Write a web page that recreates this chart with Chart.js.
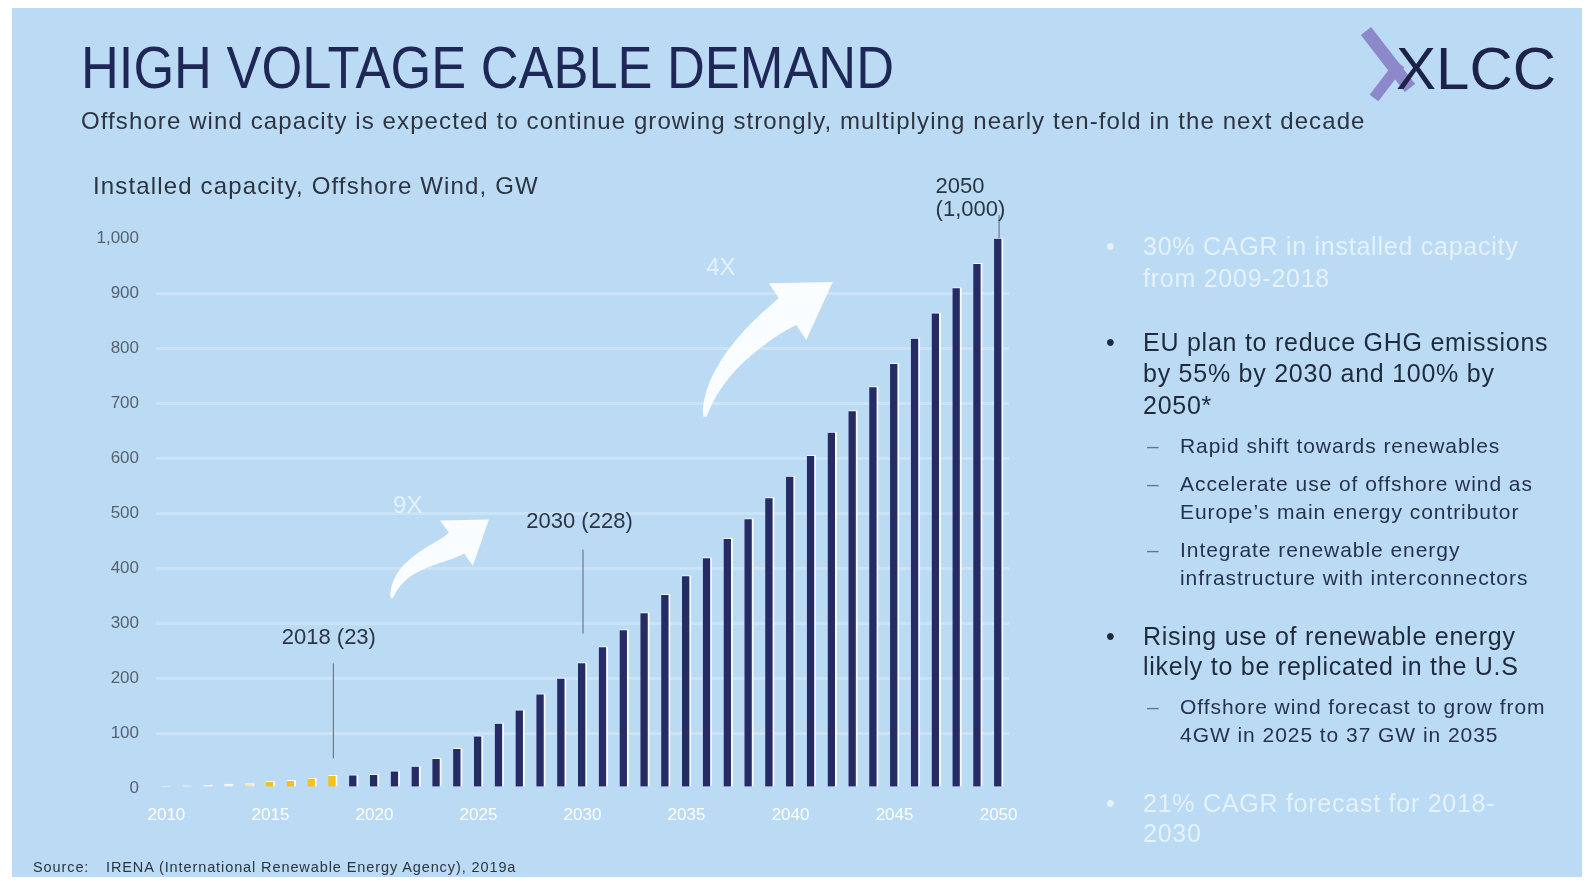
<!DOCTYPE html>
<html>
<head>
<meta charset="utf-8">
<title>High voltage cable demand</title>
<script src="https://cdn.jsdelivr.net/npm/chart.js@4.4.1/dist/chart.umd.min.js"></script>
<style>
  html, body { margin: 0; padding: 0; }
  body { width: 1589px; height: 881px; position: relative; overflow: hidden; background: #fff;
         font-family: 'Liberation Sans', Arial, sans-serif; }
  #slide { position: absolute; left: 12px; top: 8px; width: 1570px; height: 869px; background: #bbdbf5; }
  #wrap { position: absolute; left: 0; top: 0; width: 1589px; height: 881px; }
  .txt { position: absolute; white-space: nowrap; }
  #title { left: 81px; top: 38px; font-size: 60px; line-height: 60px; color: #1f2757;
           transform: scaleX(0.873); transform-origin: left top; }
  #subtitle { left: 81px; top: 109px; font-size: 24px; line-height: 24px; color: #2d3440; letter-spacing: 1.1px; }
  #ylabel { left: 93px; top: 174px; font-size: 24px; line-height: 24px; color: #2d3440; letter-spacing: 1.15px; }
  #logo { position: absolute; left: 1340px; top: 24px; }
  .item { position: absolute; white-space: nowrap; }
  .item .mark { position: absolute; left: 0; top: 0; letter-spacing: 0; }
  .lvl1 { left: 1106px; font-size: 25px; color: #1f2a3c; letter-spacing: 0.75px; }
  .lvl1 .body { margin-left: 37px; }
  .lvl2 { left: 1147px; font-size: 21px; line-height: 28px; color: #26324a; letter-spacing: 0.95px; }
  .lvl2 .mark { color: #6b7585; }
  .lvl2 .body { margin-left: 33px; }
  .faded { color: rgba(255,255,255,0.62); }
  #source { left: 33px; top: 860px; font-size: 14.5px; line-height: 15px; color: #2d3440; letter-spacing: 0.9px; }
  #source2 { left: 106px; top: 860px; font-size: 14.5px; line-height: 15px; color: #2d3440; letter-spacing: 0.9px; }
</style>
</head>
<body>
<div id="slide"></div>
<div id="wrap"><canvas id="grafico"></canvas></div>

<div class="txt" id="title">HIGH VOLTAGE CABLE DEMAND</div>
<div class="txt" id="subtitle">Offshore wind capacity is expected to continue growing strongly, multiplying nearly ten-fold in the next decade</div>
<div class="txt" id="ylabel">Installed capacity, Offshore Wind, GW</div>

<svg id="logo" width="230" height="80" viewBox="1340 24 230 80">
  <line x1="1366" y1="31" x2="1410" y2="88" stroke="#8d88c9" stroke-width="13" />
  <line x1="1374" y1="98" x2="1400" y2="64" stroke="#8d88c9" stroke-width="11" />
  <text x="1396" y="89" font-family="Liberation Sans, Arial, sans-serif" font-size="60" fill="#1d2348">XLCC</text>
</svg>

<div class="item lvl1 faded" style="top:230px; line-height:32px">
  <span class="mark">•</span>
  <div class="body">30% CAGR in installed capacity<br>from 2009-2018</div>
</div>
<div class="item lvl1" style="top:326.7px; line-height:31.4px">
  <span class="mark">•</span>
  <div class="body">EU plan to reduce GHG emissions<br>by 55% by 2030 and 100% by<br>2050*</div>
</div>
<div class="item lvl2" style="top:431.7px">
  <span class="mark">–</span>
  <div class="body">Rapid shift towards renewables</div>
</div>
<div class="item lvl2" style="top:470.2px">
  <span class="mark">–</span>
  <div class="body">Accelerate use of offshore wind as<br>Europe’s main energy contributor</div>
</div>
<div class="item lvl2" style="top:536px">
  <span class="mark">–</span>
  <div class="body">Integrate renewable energy<br>infrastructure with interconnectors</div>
</div>
<div class="item lvl1" style="top:620.7px; line-height:30.6px">
  <span class="mark">•</span>
  <div class="body">Rising use of renewable energy<br>likely to be replicated in the U.S</div>
</div>
<div class="item lvl2" style="top:693.3px; line-height:27.4px">
  <span class="mark">–</span>
  <div class="body">Offshore wind forecast to grow from<br>4GW in 2025 to 37 GW in 2035</div>
</div>
<div class="item lvl1 faded" style="top:788px; line-height:30.4px">
  <span class="mark">•</span>
  <div class="body">21% CAGR forecast for 2018-<br>2030</div>
</div>

<div class="txt" id="source">Source:</div>
<div class="txt" id="source2">IRENA (International Renewable Energy Agency), 2019a</div>

<script>
// dados
const years = ['2010','2011','2012','2013','2014','2015','2016','2017','2018','2019',
  '2020','2021','2022','2023','2024','2025','2026','2027','2028','2029',
  '2030','2031','2032','2033','2034','2035','2036','2037','2038','2039',
  '2040','2041','2042','2043','2044','2045','2046','2047','2048','2049','2050']
const capacityGW = [3, 4, 5, 7, 8, 12, 14, 18, 23, 24,
  25, 31, 40, 54, 72, 95, 118, 142, 171, 200,
  228, 257, 288, 319, 352, 386, 419, 454, 490, 528,
  567, 605, 647, 686, 730, 772, 818, 864, 910, 954, 1000]
const xTickLabels = ['2010','2015','2020','2025','2030','2035','2040','2045','2050']
const calloutYears = ['2018', '2030', '2050']
const calloutText = [['2018 (23)'], ['2030 (228)'], ['2050', '(1,000)']]
const growthLabels = ['9X', '4X']

Chart.defaults.font.family = "'Liberation Sans', Arial, sans-serif"

const barColors = years.map(y => {
  const n = +y
  if (n <= 2013) return '#f3f2ea'
  if (n === 2014) return '#efe3a8'
  if (n <= 2018) return '#f2c21b'
  return '#262b63'
})

// setas e textos sobre o gráfico
function drawArrow(ctx, p, headLen, headHalf, w0, w1) {
  const [p0, p1, p2, p3] = p
  let dx = p3.x - p2.x, dy = p3.y - p2.y
  const d = Math.hypot(dx, dy)
  dx /= d; dy /= d
  const base = { x: p3.x - dx * headLen, y: p3.y - dy * headLen }
  const left = [], right = []
  const N = 40
  for (let i = 0; i <= N; i++) {
    const t = i / N, u = 1 - t
    const x = u*u*u*p0.x + 3*u*u*t*p1.x + 3*u*t*t*p2.x + t*t*t*base.x
    const y = u*u*u*p0.y + 3*u*u*t*p1.y + 3*u*t*t*p2.y + t*t*t*base.y
    let tx = 3*u*u*(p1.x-p0.x) + 6*u*t*(p2.x-p1.x) + 3*t*t*(base.x-p2.x)
    let ty = 3*u*u*(p1.y-p0.y) + 6*u*t*(p2.y-p1.y) + 3*t*t*(base.y-p2.y)
    const l = Math.hypot(tx, ty) || 1
    tx /= l; ty /= l
    const w = (w0 + (w1 - w0) * Math.pow(t, 0.7)) / 2
    left.push([x - ty * w, y + tx * w])
    right.push([x + ty * w, y - tx * w])
  }
  ctx.beginPath()
  ctx.moveTo(left[0][0], left[0][1])
  left.forEach(q => ctx.lineTo(q[0], q[1]))
  ctx.lineTo(base.x - dy * headHalf, base.y + dx * headHalf)
  ctx.lineTo(p3.x, p3.y)
  ctx.lineTo(base.x + dy * headHalf, base.y - dx * headHalf)
  right.reverse().forEach(q => ctx.lineTo(q[0], q[1]))
  ctx.closePath()
  ctx.fill()
}

const overlay = {
  id: 'overlay',
  afterDatasetsDraw(chart) {
    const { ctx, scales: { x, y } } = chart
    ctx.save()

    // chamadas 2018 / 2030 / 2050
    const style = [
      { lineTop: 112, lineBottom: 17, dx: -4, textUp: 137, align: 'center' },
      { lineTop: 113, lineBottom: 29, dx: -3, textUp: 141, align: 'center' },
      { lineTop: 23, lineBottom: 0, dx: -63, textUp: 51, align: 'left' }
    ]
    calloutYears.forEach((yr, k) => {
      const i = years.indexOf(yr)
      const px = x.getPixelForValue(i)
      const top = y.getPixelForValue(capacityGW[i])
      const s = style[k]
      ctx.strokeStyle = '#5d6776'
      ctx.lineWidth = 1
      ctx.beginPath()
      ctx.moveTo(px + 0.5, top - s.lineTop)
      ctx.lineTo(px + 0.5, top - s.lineBottom)
      ctx.stroke()
      ctx.fillStyle = '#2c3544'
      ctx.font = "22px 'Liberation Sans', Arial, sans-serif"
      ctx.textAlign = s.align
      ctx.textBaseline = 'middle'
      calloutText[k].forEach((line, j) => {
        ctx.fillText(line, px + s.dx, top - s.textUp + j * 23)
      })
    })

    // setas de crescimento (pontos em índice de ano / GW)
    const arrows = [
      { pts: [[10.83, 345], [11.1, 410], [13.2, 425], [15.5, 488]], head: 40, half: 28, w0: 2, w1: 26, label: [11.6, 512] },
      { pts: [[25.88, 675], [26.2, 765], [28.8, 840], [32.03, 920]], head: 54, half: 34, w0: 3, w1: 32, label: [26.65, 945] }
    ]
    ctx.fillStyle = 'rgba(255,255,255,0.93)'
    arrows.forEach(a => {
      const p = a.pts.map(q => ({ x: x.getPixelForValue(q[0]), y: y.getPixelForValue(q[1]) }))
      drawArrow(ctx, p, a.head, a.half, a.w0, a.w1)
    })
    ctx.fillStyle = 'rgba(255,255,255,0.6)'
    ctx.font = "24px 'Liberation Sans', Arial, sans-serif"
    ctx.textAlign = 'center'
    ctx.textBaseline = 'middle'
    arrows.forEach((a, k) => {
      ctx.fillText(growthLabels[k], x.getPixelForValue(a.label[0]), y.getPixelForValue(a.label[1]))
    })
    ctx.restore()
  }
}

const data = {
  labels: years,
  datasets: [{
    label: 'Installed capacity, Offshore Wind, GW',
    data: capacityGW,
    backgroundColor: barColors,
    borderColor: 'rgba(255,255,255,0.85)',
    borderWidth: { top: 1, right: 2, left: 0, bottom: 0 },
    borderSkipped: false,
    barThickness: 9
  }]
}

const config = {
  type: 'bar',
  data,
  options: {
    responsive: true,
    maintainAspectRatio: false,
    animation: false,
    layout: { padding: { left: 80, right: 580, top: 238, bottom: 53 } },
    plugins: { legend: { display: false }, tooltip: { enabled: false } },
    scales: {
      x: {
        grid: { display: false, drawTicks: false },
        border: { display: false },
        afterFit: s => { s.height = 40 },
        ticks: {
          autoSkip: false,
          maxRotation: 0,
          padding: 17,
          color: '#ffffff',
          font: { size: 17 },
          callback: function (v) {
            const lab = this.getLabelForValue(v)
            return xTickLabels.includes(lab) ? lab : ''
          }
        }
      },
      y: {
        min: 0,
        max: 1000,
        border: { display: false },
        afterFit: s => { s.width = 76 },
        grid: {
          drawTicks: false,
          lineWidth: 3,
          color: c => c.tick.value === 0 || c.tick.value === 1000 ? 'rgba(0,0,0,0)' : 'rgba(255,255,255,0.22)'
        },
        ticks: {
          stepSize: 100,
          padding: 17,
          color: '#58626f',
          font: { size: 17 },
          callback: v => v.toLocaleString('en-US')
        }
      }
    }
  },
  plugins: [overlay]
}

const graph = new Chart(document.getElementById('grafico'), config)
</script>
</body>
</html>
